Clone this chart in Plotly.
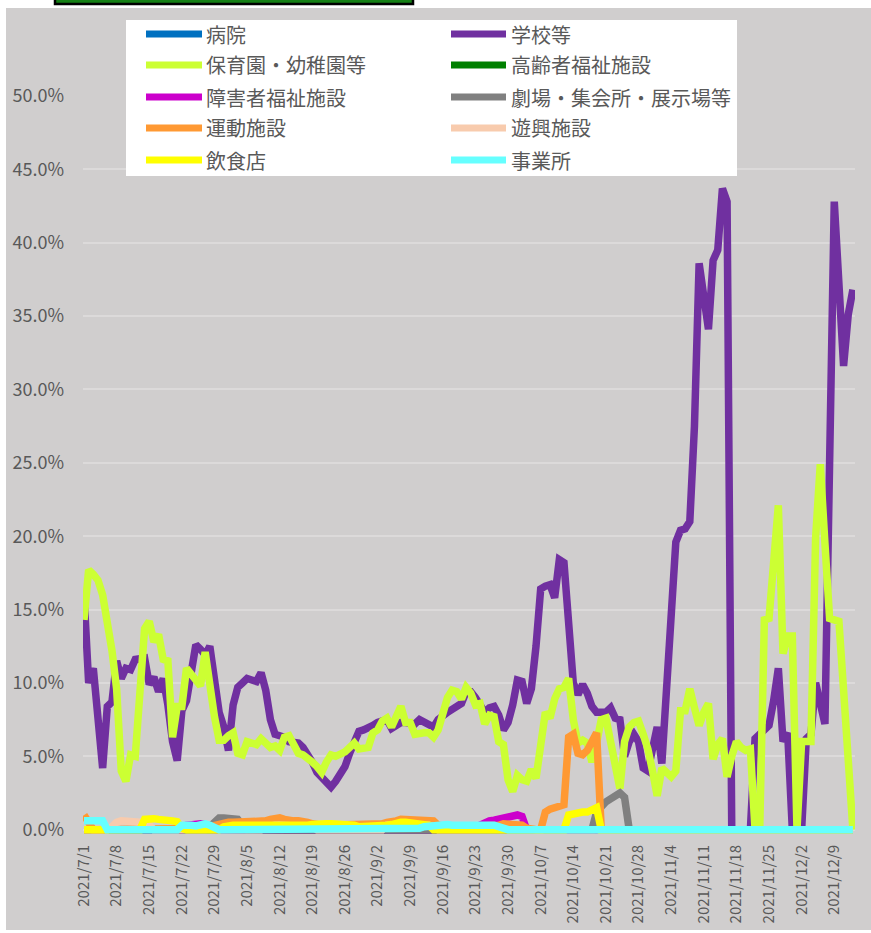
import pandas as pd
import plotly.graph_objects as go

# ---- data (percent of cases by facility type) ----
dates = pd.date_range("2021-07-01", "2021-12-13", freq="D")

tick_dates = ["2021-07-01", "2021-07-08", "2021-07-15", "2021-07-22", "2021-07-29",
              "2021-08-05", "2021-08-12", "2021-08-19", "2021-08-26", "2021-09-02",
              "2021-09-09", "2021-09-16", "2021-09-23", "2021-09-30", "2021-10-07",
              "2021-10-14", "2021-10-21", "2021-10-28", "2021-11-04", "2021-11-11",
              "2021-11-18", "2021-11-25", "2021-12-02", "2021-12-09"]
tick_labels = ["2021/7/1", "2021/7/8", "2021/7/15", "2021/7/22", "2021/7/29",
               "2021/8/5", "2021/8/12", "2021/8/19", "2021/8/26", "2021/9/2",
               "2021/9/9", "2021/9/16", "2021/9/23", "2021/9/30", "2021/10/7",
               "2021/10/14", "2021/10/21", "2021/10/28", "2021/11/4", "2021/11/11",
               "2021/11/18", "2021/11/25", "2021/12/2", "2021/12/9"]

y_ticks = [0, 5, 10, 15, 20, 25, 30, 35, 40, 45, 50]
y_tick_labels = ["0.0%", "5.0%", "10.0%", "15.0%", "20.0%", "25.0%",
                 "30.0%", "35.0%", "40.0%", "45.0%", "50.0%"]

hospital = [
    0.0, 0.0, 0.0, 0.0, 0.0, 0.0, 0.0, 0.0, 0.0, 0.0,
    0.0, 0.0, 0.0, 0.0, 0.0, 0.0, 0.0, 0.0, 0.0, 0.0,
    0.0, 0.0, 0.0, 0.0, 0.0, 0.0, 0.0, 0.0, 0.0, 0.0,
    0.0, 0.0, 0.0, 0.0, 0.0, 0.0, 0.0, 0.0, 0.0, 0.0,
    0.0, 0.0, 0.0, 0.0, 0.0, 0.0, 0.0, 0.0, 0.0, 0.0,
    0.0, 0.0, 0.0, 0.0, 0.0, 0.0, 0.0, 0.0, 0.0, 0.0,
    0.0, 0.0, 0.0, 0.0, 0.0, 0.0, 0.0, 0.0, 0.0, 0.0,
    0.0, 0.0, 0.0, 0.0, 0.0, 0.0, 0.0, 0.0, 0.0, 0.0,
    0.0, 0.0, 0.0, 0.0, 0.0, 0.0, 0.0, 0.0, 0.0, 0.0,
    0.0, 0.0, 0.0, 0.0, 0.0, 0.0, 0.0, 0.0, 0.0, 0.0,
    0.0, 0.0, 0.0, 0.0, 0.0, 0.0, 0.0, 0.0, 0.0, 0.0,
    0.0, 0.0, 0.0, 0.0, 0.0, 0.0, 0.0, 0.0, 0.0, 0.0,
    0.0, 0.0, 0.0, 0.0, 0.0, 0.0, 0.0, 0.0, 0.0, 0.0,
    0.0, 0.0, 0.0, 0.0, 0.0, 0.0, 0.0, 0.0, 0.0, 0.0,
    0.0, 0.0, 0.0, 0.0, 0.0, 0.0, 0.0, 0.0, 0.0, 0.0,
    0.0, 0.0, 0.0, 0.0, 0.0, 0.0, 0.0, 0.0, 0.0, 0.0,
    0.0, 0.0, 0.0, 0.0, 0.0, 0.0,
]

school = [
    16.0, 10.0, 11.0, 7.5, 4.2, 8.4, 8.7, 11.5, 10.3, 11.0,
    10.9, 11.6, 11.7, 11.7, 9.9, 10.4, 9.4, 10.3, 8.5, 6.0,
    4.7, 8.1, 8.8, 11.0, 12.6, 12.3, 11.9, 12.5, 10.6, 8.0,
    7.0, 5.4, 8.5, 9.7, 10.0, 10.3, 10.2, 10.1, 10.7, 9.5,
    7.5, 6.5, 6.4, 6.3, 6.0, 6.0, 5.9, 5.6, 5.2, 4.6,
    3.9, 3.5, 3.2, 2.9, 3.3, 3.8, 4.3, 5.2, 6.1, 6.7,
    6.8, 6.9, 7.1, 7.3, 7.4, 7.5, 6.9, 7.1, 7.3, 7.3,
    7.3, 7.2, 7.5, 7.3, 7.1, 7.0, 7.5, 7.8, 8.0, 8.2,
    8.4, 8.6, 9.4, 9.4, 9.0, 8.5, 8.0, 8.3, 8.4, 7.8,
    6.8, 7.3, 8.5, 10.2, 10.1, 8.6, 9.6, 12.5, 16.4, 16.6,
    16.7, 15.8, 18.4, 18.2, 13.5, 10.0, 9.2, 9.9, 9.3, 8.4,
    8.0, 8.0, 8.0, 8.3, 7.6, 7.5, 5.0, 6.0, 6.5, 6.0,
    4.2, 4.0, 5.5, 7.0, 4.5, 9.7, 15.2, 19.6, 20.4, 20.5,
    21.0, 27.5, 38.6, 36.4, 34.1, 38.8, 39.5, 43.7, 42.8, 0.0,
    0.0, 0.0, 0.0, 0.0, 6.2, 6.5, 6.8, 7.1, 8.8, 11.0,
    6.0, 6.6, 0.0, 0.0, 0.0, 6.2, 6.5, 10.0, 8.5, 7.2,
    25.0, 42.8, 37.2, 31.6, 35.1, 36.8,
]

nursery = [
    14.3, 17.7, 17.4, 17.0, 16.0, 14.3, 12.2, 9.6, 4.0, 3.3,
    5.1, 5.0, 9.5, 13.7, 14.2, 12.8, 13.3, 11.6, 11.5, 6.3,
    8.4, 8.4, 11.0, 10.6, 10.1, 9.8, 12.1, 9.7, 7.7, 6.1,
    6.1, 6.4, 6.6, 5.2, 5.1, 6.0, 5.9, 5.8, 6.2, 5.8,
    5.6, 5.7, 5.4, 6.3, 6.4, 5.8, 5.2, 5.1, 4.9, 4.6,
    4.3, 3.9, 4.6, 5.1, 5.0, 5.1, 5.3, 5.6, 5.9, 5.5,
    5.5, 5.6, 6.6, 6.8, 7.4, 7.6, 7.0, 7.7, 8.4, 7.3,
    7.3, 6.5, 6.6, 6.6, 6.6, 6.3, 6.8, 8.0, 9.0, 9.5,
    9.4, 8.9, 9.7, 9.3, 8.5, 8.6, 7.2, 7.8, 7.7, 6.0,
    5.8, 3.4, 2.6, 3.7, 3.4, 3.3, 4.1, 3.5, 5.9, 8.0,
    7.6, 8.9, 9.6, 9.7, 10.3, 7.5, 5.9, 6.1, 5.9, 4.6,
    5.9, 7.5, 7.6, 6.0, 4.3, 2.8, 6.0, 7.0, 7.3, 7.4,
    6.5, 5.5, 4.0, 2.3, 4.2, 3.9, 3.6, 4.0, 8.1, 8.1,
    9.6, 8.3, 7.1, 8.0, 8.6, 4.8, 5.8, 6.2, 3.6, 5.0,
    6.0, 5.6, 5.4, 5.5, 0.0, 0.0, 14.3, 14.4, 18.3, 22.1,
    12.0, 13.2, 13.2, 0.0, 6.0, 6.0, 6.0, 19.9, 24.9, 19.5,
    14.4, 14.3, 14.2, 9.5, 4.8, 0.0,
]

elderly = [
    0.0, 0.0, 0.0, 0.0, 0.0, 0.0, 0.0, 0.0, 0.0, 0.0,
    0.0, 0.0, 0.0, 0.0, 0.0, 0.0, 0.0, 0.0, 0.0, 0.0,
    0.0, 0.0, 0.0, 0.0, 0.0, 0.0, 0.0, 0.0, 0.0, 0.0,
    0.0, 0.0, 0.0, 0.0, 0.0, 0.0, 0.0, 0.0, 0.0, 0.0,
    0.0, 0.0, 0.0, 0.0, 0.0, 0.0, 0.0, 0.0, 0.0, 0.0,
    0.0, 0.0, 0.0, 0.0, 0.0, 0.0, 0.0, 0.0, 0.0, 0.0,
    0.0, 0.0, 0.0, 0.0, 0.0, 0.0, 0.0, 0.0, 0.0, 0.0,
    0.0, 0.0, 0.0, 0.0, 0.0, 0.0, 0.0, 0.0, 0.0, 0.0,
    0.0, 0.0, 0.0, 0.0, 0.0, 0.0, 0.0, 0.0, 0.0, 0.0,
    0.0, 0.0, 0.0, 0.0, 0.0, 0.0, 0.0, 0.0, 0.0, 0.0,
    0.0, 0.0, 0.0, 0.0, 0.0, 0.0, 0.0, 0.0, 0.0, 0.0,
    0.0, 0.0, 0.0, 0.0, 0.0, 0.0, 0.0, 0.0, 0.0, 0.0,
    0.0, 0.0, 0.0, 0.0, 0.0, 0.0, 0.0, 0.0, 0.0, 0.0,
    0.0, 0.0, 0.0, 0.0, 0.0, 0.0, 0.0, 0.0, 0.0, 0.0,
    0.0, 0.0, 0.0, 0.0, 0.0, 0.0, 0.0, 0.0, 0.0, 0.0,
    0.0, 0.0, 0.0, 0.0, 0.0, 0.0, 0.0, 0.0, 0.0, 0.0,
    0.0, 0.0, 0.0, 0.0, 0.0, 0.0,
]

disability = [
    0.0, 0.0, 0.0, 0.0, 0.0, 0.0, 0.0, 0.0, 0.0, 0.0,
    0.0, 0.0, 0.0, 0.0, 0.0, 0.0, 0.0, 0.0, 0.0, 0.0,
    0.0, 0.0, 0.3, 0.35, 0.4, 0.4, 0.35, 0.2, 0.0, 0.0,
    0.0, 0.0, 0.0, 0.0, 0.0, 0.0, 0.0, 0.0, 0.0, 0.0,
    0.0, 0.0, 0.0, 0.0, 0.0, 0.0, 0.0, 0.0, 0.0, 0.0,
    0.0, 0.0, 0.0, 0.0, 0.0, 0.0, 0.0, 0.0, 0.0, 0.0,
    0.0, 0.0, 0.0, 0.0, 0.0, 0.0, 0.0, 0.0, 0.0, 0.0,
    0.0, 0.0, 0.0, 0.0, 0.0, 0.0, 0.0, 0.0, 0.0, 0.0,
    0.0, 0.0, 0.0, 0.0, 0.0, 0.3, 0.5, 0.6, 0.65, 0.7,
    0.75, 0.8, 0.9, 1.0, 0.9, 0.0, 0.0, 0.0, 0.0, 0.0,
    0.0, 0.0, 0.0, 0.0, 0.0, 0.0, 0.0, 0.0, 0.0, 0.0,
    0.0, 0.0, 0.0, 0.0, 0.0, 0.0, 0.0, 0.0, 0.0, 0.0,
    0.0, 0.0, 0.0, 0.0, 0.0, 0.0, 0.0, 0.0, 0.0, 0.0,
    0.0, 0.0, 0.0, 0.0, 0.0, 0.0, 0.0, 0.0, 0.0, 0.0,
    0.0, 0.0, 0.0, 0.0, 0.0, 0.0, 0.0, 0.0, 0.0, 0.0,
    0.0, 0.0, 0.0, 0.0, 0.0, 0.0, 0.0, 0.0, 0.0, 0.0,
    0.0, 0.0, 0.0, 0.0, 0.0, 0.0,
]

theater = [
    0.0, 0.0, 0.0, 0.0, 0.0, 0.0, 0.0, 0.0, 0.0, 0.0,
    0.0, 0.0, 0.0, 0.0, 0.0, 0.0, 0.0, 0.0, 0.0, 0.0,
    0.0, 0.0, 0.0, 0.0, 0.0, 0.0, 0.0, 0.2, 0.6, 0.8,
    0.8, 0.75, 0.7, 0.7, 0.3, 0.0, 0.0, 0.0, 0.0, 0.0,
    0.0, 0.0, 0.0, 0.0, 0.0, 0.0, 0.0, 0.0, 0.0, 0.0,
    0.0, 0.0, 0.0, 0.0, 0.0, 0.0, 0.0, 0.0, 0.0, 0.0,
    0.0, 0.0, 0.0, 0.0, 0.0, 0.0, 0.0, 0.0, 0.0, 0.0,
    0.0, 0.0, 0.0, 0.0, 0.0, 0.0, 0.0, 0.0, 0.0, 0.0,
    0.0, 0.0, 0.0, 0.0, 0.0, 0.0, 0.0, 0.0, 0.0, 0.0,
    0.0, 0.0, 0.0, 0.0, 0.0, 0.0, 0.0, 0.0, 0.0, 0.0,
    0.0, 0.0, 0.0, 0.0, 0.0, 0.0, 0.0, 0.0, 0.0, 0.0,
    1.2, 1.6, 1.9, 2.1, 2.3, 2.5, 2.2, 0.0, 0.0, 0.0,
    0.0, 0.0, 0.0, 0.0, 0.0, 0.0, 0.0, 0.0, 0.0, 0.0,
    0.0, 0.0, 0.0, 0.0, 0.0, 0.0, 0.0, 0.0, 0.0, 0.0,
    0.0, 0.0, 0.0, 0.0, 0.0, 0.0, 0.0, 0.0, 0.0, 0.0,
    0.0, 0.0, 0.0, 0.0, 0.0, 0.0, 0.0, 0.0, 0.0, 0.0,
    0.0, 0.0, 0.0, 0.0, 0.0, 0.0,
]

sports = [
    1.0, 0.5, 0.0, 0.0, 0.0, 0.0, 0.0, 0.0, 0.0, 0.0,
    0.0, 0.0, 0.0, 0.0, 0.0, 0.0, 0.0, 0.0, 0.0, 0.0,
    0.0, 0.0, 0.0, 0.0, 0.0, 0.0, 0.1, 0.2, 0.3, 0.4,
    0.5, 0.5, 0.5, 0.5, 0.6, 0.6, 0.5, 0.5, 0.5, 0.6,
    0.7, 0.8, 0.8, 0.7, 0.6, 0.6, 0.6, 0.6, 0.5, 0.4,
    0.3, 0.3, 0.3, 0.3, 0.3, 0.3, 0.3, 0.3, 0.3, 0.3,
    0.3, 0.3, 0.3, 0.4, 0.4, 0.5, 0.5, 0.6, 0.7, 0.7,
    0.6, 0.6, 0.6, 0.6, 0.6, 0.6, 0.3, 0.2, 0.2, 0.2,
    0.2, 0.2, 0.2, 0.2, 0.2, 0.2, 0.3, 0.3, 0.3, 0.3,
    0.4, 0.4, 0.4, 0.4, 0.3, 0.1, 0.0, 0.0, 0.0, 1.2,
    1.4, 1.5, 1.6, 1.7, 6.3, 6.5, 5.2, 5.1, 5.4, 6.0,
    6.6, 0.0, 0.0, 0.0, 0.0, 0.0, 0.0, 0.0, 0.0, 0.0,
    0.0, 0.0, 0.0, 0.0, 0.0, 0.0, 0.0, 0.0, 0.0, 0.0,
    0.0, 0.0, 0.0, 0.0, 0.0, 0.0, 0.0, 0.0, 0.0, 0.0,
    0.0, 0.0, 0.0, 0.0, 0.0, 0.0, 0.0, 0.0, 0.0, 0.0,
    0.0, 0.0, 0.0, 0.0, 0.0, 0.0, 0.0, 0.0, 0.0, 0.0,
    0.0, 0.0, 0.0, 0.0, 0.0, 0.0,
]

amusement = [
    0.0, 0.0, 0.0, 0.0, 0.0, 0.0, 0.2, 0.5, 0.6, 0.6,
    0.6, 0.55, 0.5, 0.45, 0.3, 0.0, 0.0, 0.0, 0.0, 0.0,
    0.0, 0.0, 0.0, 0.0, 0.0, 0.0, 0.0, 0.0, 0.0, 0.0,
    0.0, 0.0, 0.0, 0.0, 0.0, 0.0, 0.0, 0.0, 0.0, 0.2,
    0.3, 0.3, 0.3, 0.3, 0.3, 0.3, 0.3, 0.3, 0.3, 0.2,
    0.0, 0.0, 0.0, 0.0, 0.0, 0.0, 0.0, 0.0, 0.0, 0.0,
    0.0, 0.0, 0.0, 0.0, 0.0, 0.3, 0.3, 0.3, 0.35, 0.35,
    0.35, 0.3, 0.3, 0.3, 0.3, 0.2, 0.0, 0.0, 0.0, 0.0,
    0.0, 0.0, 0.0, 0.0, 0.0, 0.0, 0.0, 0.0, 0.0, 0.0,
    0.0, 0.0, 0.0, 0.0, 0.0, 0.0, 0.0, 0.0, 0.0, 0.0,
    0.0, 0.0, 0.0, 0.0, 0.0, 0.0, 0.0, 0.0, 0.0, 0.0,
    0.0, 0.0, 0.0, 0.0, 0.0, 0.0, 0.0, 0.0, 0.0, 0.0,
    0.0, 0.0, 0.0, 0.0, 0.0, 0.0, 0.0, 0.0, 0.0, 0.0,
    0.0, 0.0, 0.0, 0.0, 0.0, 0.0, 0.0, 0.0, 0.0, 0.0,
    0.0, 0.0, 0.0, 0.0, 0.0, 0.0, 0.0, 0.0, 0.0, 0.0,
    0.0, 0.0, 0.0, 0.0, 0.0, 0.0, 0.0, 0.0, 0.0, 0.0,
    0.0, 0.0, 0.0, 0.0, 0.0, 0.0,
]

restaurant = [
    0.0, 0.0, 0.0, 0.0, 0.0, 0.0, 0.0, 0.0, 0.0, 0.0,
    0.0, 0.0, 0.0, 0.7, 0.75, 0.75, 0.7, 0.7, 0.65, 0.6,
    0.55, 0.1, 0.0, 0.0, 0.0, 0.0, 0.0, 0.0, 0.0, 0.0,
    0.2, 0.3, 0.3, 0.3, 0.3, 0.3, 0.3, 0.3, 0.2, 0.2,
    0.2, 0.2, 0.2, 0.2, 0.2, 0.2, 0.2, 0.25, 0.3, 0.35,
    0.4, 0.4, 0.4, 0.4, 0.4, 0.35, 0.35, 0.35, 0.3, 0.2,
    0.2, 0.2, 0.2, 0.2, 0.25, 0.3, 0.35, 0.45, 0.5, 0.5,
    0.45, 0.45, 0.4, 0.4, 0.3, 0.0, 0.0, 0.0, 0.0, 0.0,
    0.0, 0.0, 0.0, 0.0, 0.0, 0.0, 0.0, 0.0, 0.0, 0.0,
    0.0, 0.0, 0.0, 0.0, 0.0, 0.0, 0.0, 0.0, 0.0, 0.0,
    0.0, 0.0, 0.0, 0.0, 1.0, 1.1, 1.1, 1.2, 1.2, 1.3,
    1.5, 0.0, 0.0, 0.0, 0.0, 0.0, 0.0, 0.0, 0.0, 0.0,
    0.0, 0.0, 0.0, 0.0, 0.0, 0.0, 0.0, 0.0, 0.0, 0.0,
    0.0, 0.0, 0.0, 0.0, 0.0, 0.0, 0.0, 0.0, 0.0, 0.0,
    0.0, 0.0, 0.0, 0.0, 0.0, 0.0, 0.0, 0.0, 0.0, 0.0,
    0.0, 0.0, 0.0, 0.0, 0.0, 0.0, 0.0, 0.0, 0.0, 0.0,
    0.0, 0.0, 0.0, 0.0, 0.0, 0.0,
]

office = [
    0.6, 0.6, 0.6, 0.6, 0.6, 0.0, 0.0, 0.0, 0.0, 0.0,
    0.0, 0.0, 0.0, 0.0, 0.0, 0.0, 0.0, 0.0, 0.0, 0.0,
    0.0, 0.3, 0.35, 0.3, 0.25, 0.3, 0.4, 0.3, 0.15, 0.0,
    0.0, 0.0, 0.0, 0.0, 0.0, 0.0, 0.0, 0.0, 0.0, 0.0,
    0.0, 0.0, 0.0, 0.0, 0.0, 0.0, 0.0, 0.0, 0.0, 0.0,
    0.0, 0.0, 0.0, 0.0, 0.0, 0.0, 0.0, 0.0, 0.0, 0.0,
    0.0, 0.0, 0.0, 0.0, 0.0, 0.0, 0.0, 0.0, 0.0, 0.0,
    0.0, 0.0, 0.1, 0.2, 0.25, 0.3, 0.3, 0.3, 0.35, 0.3,
    0.35, 0.3, 0.3, 0.35, 0.3, 0.3, 0.25, 0.3, 0.3, 0.2,
    0.0, 0.0, 0.0, 0.0, 0.0, 0.0, 0.0, 0.0, 0.0, 0.0,
    0.0, 0.0, 0.0, 0.0, 0.0, 0.0, 0.0, 0.0, 0.0, 0.0,
    0.0, 0.0, 0.0, 0.0, 0.0, 0.0, 0.0, 0.0, 0.0, 0.0,
    0.0, 0.0, 0.0, 0.0, 0.0, 0.0, 0.0, 0.0, 0.0, 0.0,
    0.0, 0.0, 0.0, 0.0, 0.0, 0.0, 0.0, 0.0, 0.0, 0.0,
    0.0, 0.0, 0.0, 0.0, 0.0, 0.0, 0.0, 0.0, 0.0, 0.0,
    0.0, 0.0, 0.0, 0.0, 0.0, 0.0, 0.0, 0.0, 0.0, 0.0,
    0.0, 0.0, 0.0, 0.0, 0.0, 0.0,
]

names = ["病院", "学校等", "保育園・幼稚園等", "高齢者福祉施設", "障害者福祉施設",
         "劇場・集会所・展示場等", "運動施設", "遊興施設", "飲食店", "事業所"]
series = [hospital, school, nursery, elderly, disability,
          theater, sports, amusement, restaurant, office]
colors = ["#0070C0", "#7030A0", "#CCFF33", "#008000", "#CC00CC",
          "#808080", "#FF9933", "#F8CBAD", "#FFFF00", "#66FFFF"]

# ---- geometry ----
FIG_W, FIG_H = 871, 933
M_L, M_R, M_T, M_B = 83, 16, 96, 96
PW = FIG_W - M_L - M_R
PH = FIG_H - M_T - M_B


def px_x(px):
    return (px - M_L) / PW


def px_y(py):
    return (FIG_H - M_B - py) / PH


FONT = "Noto Sans CJK JP"
TEXT_COLOR = "#595959"
PANEL = "#D0CECE"

fig = go.Figure()
for name, vals, col in zip(names, series, colors):
    fig.add_trace(go.Scatter(
        x=dates, y=vals, mode="lines", name=name,
        line=dict(color=col, width=7.5),
        showlegend=False,
    ))

shapes = [
    # chart panel
    dict(type="rect", xref="paper", yref="paper",
         x0=px_x(6), x1=px_x(871), y0=px_y(930), y1=px_y(8),
         fillcolor=PANEL, line=dict(width=0), layer="below"),
    # title box peeking in at the top
    dict(type="rect", xref="paper", yref="paper",
         x0=px_x(55), x1=px_x(413), y0=px_y(4), y1=px_y(-12),
         fillcolor="#158015", line=dict(color="#000000", width=2.5), layer="above"),
    # legend box
    dict(type="rect", xref="paper", yref="paper",
         x0=px_x(126), x1=px_x(737), y0=px_y(176), y1=px_y(20),
         fillcolor="#FFFFFF", line=dict(width=0), layer="above"),
]

annotations = []
col_line_x = [(146, 202), (451, 506)]
col_text_x = [204, 509]
row_y = [34, 65, 97, 128, 160]
for i, (name, col) in enumerate(zip(names, colors)):
    c = i % 2
    r = i // 2
    lx0, lx1 = col_line_x[c]
    shapes.append(dict(type="line", xref="paper", yref="paper",
                       x0=px_x(lx0), x1=px_x(lx1), y0=px_y(row_y[r]), y1=px_y(row_y[r]),
                       line=dict(color=col, width=7), layer="above"))
    annotations.append(dict(xref="paper", yref="paper",
                            x=px_x(col_text_x[c]), y=px_y(row_y[r]),
                            xanchor="left", yanchor="middle", showarrow=False,
                            text=name, font=dict(family=FONT, size=20, color=TEXT_COLOR)))

fig.update_layout(
    width=FIG_W, height=FIG_H,
    margin=dict(l=M_L, r=M_R, t=M_T, b=M_B, pad=0),
    paper_bgcolor="#FFFFFF",
    plot_bgcolor=PANEL,
    font=dict(family=FONT, color=TEXT_COLOR),
    shapes=shapes,
    annotations=annotations,
    showlegend=False,
    xaxis=dict(
        type="date",
        range=["2021-06-30 18:50", "2021-12-13 10:48"],
        tickvals=tick_dates, ticktext=tick_labels,
        tickangle=-90, tickfont=dict(family=FONT, size=15, color=TEXT_COLOR),
        showgrid=False, zeroline=False, showline=False, ticks="",
        ticklabelstandoff=4, automargin=False,
    ),
    yaxis=dict(
        range=[-0.5, 50],
        tickvals=y_ticks, ticktext=y_tick_labels,
        tickfont=dict(family=FONT, size=18, color=TEXT_COLOR),
        showgrid=True, gridcolor="#DCDADA", gridwidth=1.5,
        zeroline=False, showline=False, ticks="",
        ticklabelstandoff=18, automargin=False,
    ),
)

fig.write_html("out.html")
